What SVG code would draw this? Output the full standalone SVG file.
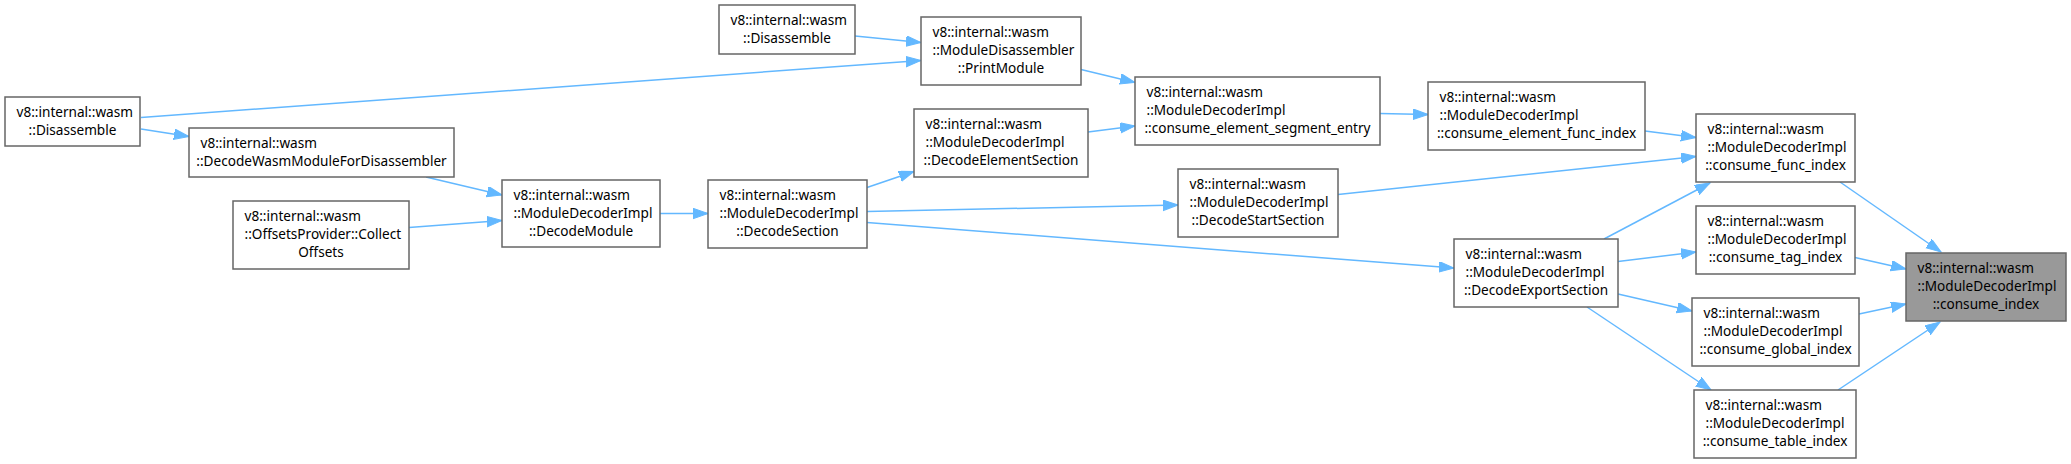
<svg xmlns="http://www.w3.org/2000/svg" width="2071" height="464" viewBox="0 0 2071 464">
<style>
.node rect{fill:#ffffff;stroke:#666666;stroke-width:1.5}
.node.target rect{fill:#999999}
.node text{font-family:"Noto Sans","DejaVu Sans",sans-serif;font-size:13.6px;fill:#000000}
.l{text-anchor:start}
.c{text-anchor:middle}
#edges line{stroke:#63b8ff;stroke-width:1.5;fill:none;marker-end:url(#ah)}
</style>
<defs>
<marker id="ah" markerUnits="userSpaceOnUse" markerWidth="16" markerHeight="12" refX="15" refY="5.25" orient="auto">
<path d="M0,0 L15,5.25 L0,10.5 z" fill="#63b8ff" stroke="#63b8ff" stroke-width="1"/>
</marker>
</defs>
<rect width="2071" height="464" fill="#ffffff"/>
<g id="edges">
<line x1="141" y1="117.5" x2="921" y2="60.5"/>
<line x1="141" y1="129" x2="189" y2="136.5"/>
<line x1="855" y1="36" x2="921" y2="42.5"/>
<line x1="1081" y1="69.5" x2="1135" y2="82.5"/>
<line x1="1088" y1="132" x2="1135" y2="126"/>
<line x1="426" y1="177" x2="502" y2="195"/>
<line x1="409" y1="227.5" x2="502" y2="220.5"/>
<line x1="660" y1="213.5" x2="708" y2="213.5"/>
<line x1="867" y1="187.5" x2="914" y2="171.5"/>
<line x1="867" y1="211.5" x2="1178" y2="205"/>
<line x1="867" y1="222.5" x2="1454" y2="268"/>
<line x1="1380" y1="113.5" x2="1428" y2="114.5"/>
<line x1="1645" y1="131" x2="1696" y2="137.5"/>
<line x1="1338" y1="194.5" x2="1696" y2="156.5"/>
<line x1="1604" y1="239" x2="1710" y2="183"/>
<line x1="1618" y1="261.5" x2="1696" y2="252"/>
<line x1="1618" y1="294" x2="1692" y2="311"/>
<line x1="1587" y1="307" x2="1711" y2="390"/>
<line x1="1840" y1="182" x2="1941" y2="252"/>
<line x1="1855" y1="257.5" x2="1906" y2="269"/>
<line x1="1859" y1="314" x2="1906" y2="304"/>
<line x1="1838" y1="390" x2="1940" y2="322"/>
</g>
<g id="n_disassemble_left" class="node">
<rect x="5" y="97" width="135" height="49"/>
<text class="l" x="16.5" y="116.5">v8::internal::wasm</text>
<text class="c" x="72.5" y="134.5">::Disassemble</text>
</g>
<g id="n_decodewasm" class="node">
<rect x="189" y="128" width="265" height="49"/>
<text class="l" x="200.5" y="147.5">v8::internal::wasm</text>
<text class="c" x="321.5" y="165.5">::DecodeWasmModuleForDisassembler</text>
</g>
<g id="n_offsets" class="node">
<rect x="233" y="201" width="176" height="68"/>
<text class="l" x="244.5" y="221">v8::internal::wasm</text>
<text class="l" x="244.5" y="239">::OffsetsProvider::Collect</text>
<text class="c" x="321" y="257">Offsets</text>
</g>
<g id="n_decodemodule" class="node">
<rect x="502" y="180" width="158" height="67"/>
<text class="l" x="513.5" y="199.5">v8::internal::wasm</text>
<text class="l" x="513.5" y="217.5">::ModuleDecoderImpl</text>
<text class="c" x="581" y="235.5">::DecodeModule</text>
</g>
<g id="n_decodesection" class="node">
<rect x="708" y="180" width="159" height="68"/>
<text class="l" x="719.5" y="200">v8::internal::wasm</text>
<text class="l" x="719.5" y="218">::ModuleDecoderImpl</text>
<text class="c" x="787.5" y="236">::DecodeSection</text>
</g>
<g id="n_disassemble_top" class="node">
<rect x="719" y="5" width="136" height="49"/>
<text class="l" x="730.5" y="24.5">v8::internal::wasm</text>
<text class="c" x="787" y="42.5">::Disassemble</text>
</g>
<g id="n_printmodule" class="node">
<rect x="921" y="17" width="160" height="68"/>
<text class="l" x="932.5" y="37">v8::internal::wasm</text>
<text class="l" x="932.5" y="55">::ModuleDisassembler</text>
<text class="c" x="1001" y="73">::PrintModule</text>
</g>
<g id="n_decodeelement" class="node">
<rect x="914" y="109" width="174" height="68"/>
<text class="l" x="925.5" y="129">v8::internal::wasm</text>
<text class="l" x="925.5" y="147">::ModuleDecoderImpl</text>
<text class="c" x="1001" y="165">::DecodeElementSection</text>
</g>
<g id="n_segentry" class="node">
<rect x="1135" y="77" width="245" height="68"/>
<text class="l" x="1146.5" y="97">v8::internal::wasm</text>
<text class="l" x="1146.5" y="115">::ModuleDecoderImpl</text>
<text class="c" x="1257.5" y="133">::consume_element_segment_entry</text>
</g>
<g id="n_decodestart" class="node">
<rect x="1178" y="169" width="160" height="68"/>
<text class="l" x="1189.5" y="189">v8::internal::wasm</text>
<text class="l" x="1189.5" y="207">::ModuleDecoderImpl</text>
<text class="c" x="1258" y="225">::DecodeStartSection</text>
</g>
<g id="n_elemfunc" class="node">
<rect x="1428" y="82" width="217" height="68"/>
<text class="l" x="1439.5" y="102">v8::internal::wasm</text>
<text class="l" x="1439.5" y="120">::ModuleDecoderImpl</text>
<text class="c" x="1536.5" y="138">::consume_element_func_index</text>
</g>
<g id="n_decodeexport" class="node">
<rect x="1454" y="239" width="164" height="68"/>
<text class="l" x="1465.5" y="259">v8::internal::wasm</text>
<text class="l" x="1465.5" y="277">::ModuleDecoderImpl</text>
<text class="c" x="1536" y="295">::DecodeExportSection</text>
</g>
<g id="n_funcindex" class="node">
<rect x="1696" y="114" width="159" height="68"/>
<text class="l" x="1707.5" y="134">v8::internal::wasm</text>
<text class="l" x="1707.5" y="152">::ModuleDecoderImpl</text>
<text class="c" x="1775.5" y="170">::consume_func_index</text>
</g>
<g id="n_tagindex" class="node">
<rect x="1696" y="206" width="159" height="68"/>
<text class="l" x="1707.5" y="226">v8::internal::wasm</text>
<text class="l" x="1707.5" y="244">::ModuleDecoderImpl</text>
<text class="c" x="1775.5" y="262">::consume_tag_index</text>
</g>
<g id="n_globalindex" class="node">
<rect x="1692" y="298" width="167" height="68"/>
<text class="l" x="1703.5" y="318">v8::internal::wasm</text>
<text class="l" x="1703.5" y="336">::ModuleDecoderImpl</text>
<text class="c" x="1775.5" y="354">::consume_global_index</text>
</g>
<g id="n_tableindex" class="node">
<rect x="1694" y="390" width="162" height="68"/>
<text class="l" x="1705.5" y="410">v8::internal::wasm</text>
<text class="l" x="1705.5" y="428">::ModuleDecoderImpl</text>
<text class="c" x="1775" y="446">::consume_table_index</text>
</g>
<g id="n_consumeindex" class="node target">
<rect x="1906" y="253" width="160" height="68"/>
<text class="l" x="1917.5" y="273">v8::internal::wasm</text>
<text class="l" x="1917.5" y="291">::ModuleDecoderImpl</text>
<text class="c" x="1986" y="309">::consume_index</text>
</g>
</svg>
